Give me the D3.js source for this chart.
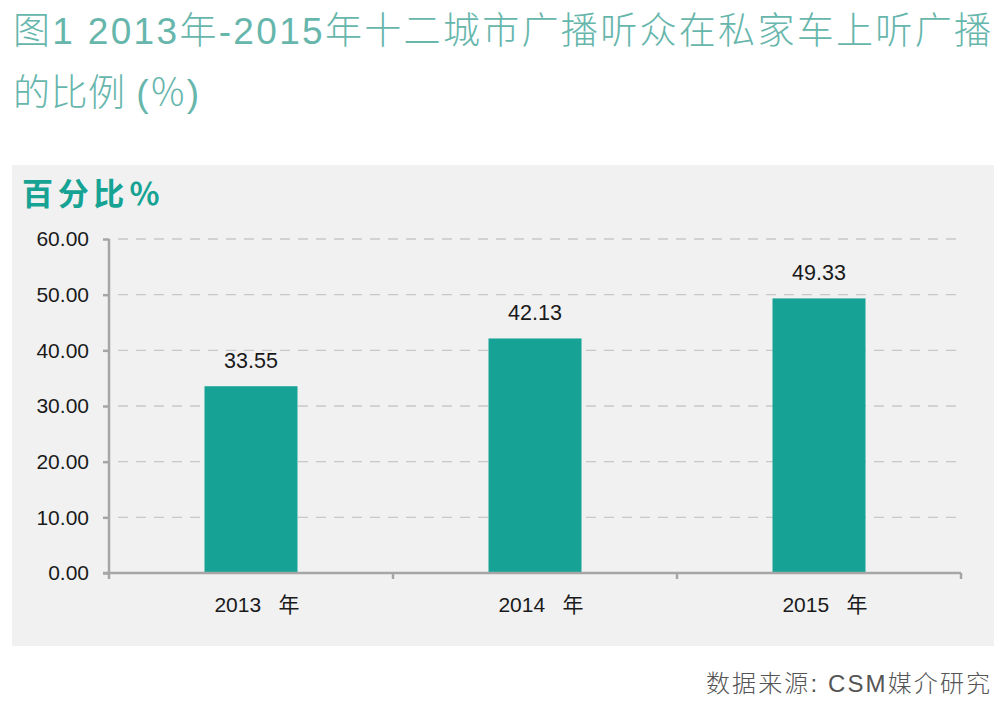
<!DOCTYPE html>
<html>
<head>
<meta charset="utf-8">
<script src="https://cdn.jsdelivr.net/npm/d3@7"></script>
<style>
  body { margin: 0; background: #fff; }
  svg { display: block; }
</style>
</head>
<body>
<script>
// chart data
const years = ["2013", "2014", "2015"];
const shares = [33.55, 42.13, 49.33];
const yTicks = [0, 10, 20, 30, 40, 50, 60];

const W = 1008, H = 721;
const svg = d3.select("body").append("svg")
    .attr("width", W)
    .attr("height", H);

// title, two lines
const title = svg.append("text")
    .attr("fill", "#66b6ac")
    .style("font-family", "'Liberation Sans', 'Noto Sans CJK SC', sans-serif")
    .style("font-weight", 300)
    .style("font-size", "37px");
title.append("tspan").attr("x", 13).attr("y", 44)
    .attr("textLength", 978).attr("lengthAdjust", "spacing")
    .text("图1 2013年-2015年十二城市广播听众在私家车上听广播");
title.append("tspan").attr("x", 13).attr("y", 106)
    .attr("textLength", 186).attr("lengthAdjust", "spacing")
    .text("的比例 (％)");

// gray panel
svg.append("rect")
    .attr("x", 12).attr("y", 165)
    .attr("width", 982).attr("height", 481)
    .attr("fill", "#f1f1f1");

svg.append("text")
    .attr("x", 22).attr("y", 205)
    .attr("fill", "#16a394")
    .attr("textLength", 138).attr("lengthAdjust", "spacing")
    .style("font-family", "'Noto Sans CJK SC', sans-serif")
    .style("font-weight", 700)
    .style("font-size", "31px")
    .text("百分比％");

// scales
const x = d3.scaleBand()
    .domain(years)
    .range([109, 961])
    .paddingInner(0)
    .paddingOuter(0);

const y = d3.scaleLinear()
    .domain([0, 60])
    .range([573, 239]);

const barW = 93;

// dashed gridlines
svg.append("g")
    .selectAll("line")
    .data(yTicks.filter(d => d > 0))
    .join("line")
    .attr("x1", 118).attr("x2", 961)
    .attr("y1", d => y(d)).attr("y2", d => y(d))
    .attr("stroke", "#c8c8c8")
    .attr("stroke-width", 1.3)
    .attr("stroke-dasharray", "10,8");

// bars
svg.append("g")
    .selectAll("rect")
    .data(years)
    .join("rect")
    .attr("x", (d) => x(d) + x.bandwidth() / 2 - barW / 2)
    .attr("width", barW)
    .attr("y", (d, i) => y(shares[i]))
    .attr("height", (d, i) => y(0) - y(shares[i]))
    .attr("fill", "#16a396");

// value labels
svg.append("g")
    .selectAll("text")
    .data(years)
    .join("text")
    .attr("x", d => x(d) + x.bandwidth() / 2)
    .attr("y", (d, i) => y(shares[i]) - 18)
    .attr("text-anchor", "middle")
    .attr("fill", "#1a1a1a")
    .style("font-family", "'Liberation Sans', Arial, sans-serif")
    .style("font-size", "21.5px")
    .text((d, i) => shares[i].toFixed(2));

// y axis
const yAxis = svg.append("g")
    .attr("transform", "translate(109,0)")
    .call(d3.axisLeft(y).tickValues(yTicks).tickFormat(d3.format(".2f")).tickSize(6).tickPadding(14));
yAxis.select(".domain").attr("stroke", "#a6a6a6").attr("stroke-width", 2.5)
    .attr("d", "M0," + y(60) + "V" + y(0));
yAxis.selectAll(".tick line").attr("stroke", "#a6a6a6").attr("stroke-width", 2.5);
yAxis.selectAll(".tick text")
    .attr("fill", "#1a1a1a")
    .style("font-family", "'Liberation Sans', Arial, sans-serif")
    .style("font-size", "21px");

// x axis: boundary ticks between categories
const bounds = [x.range()[0]].concat(years.map(d => x(d) + x.bandwidth()));
const xg = svg.append("g");
xg.append("line")
    .attr("x1", 103).attr("x2", 961)
    .attr("y1", y(0)).attr("y2", y(0))
    .attr("stroke", "#a6a6a6").attr("stroke-width", 2.5);
xg.selectAll("line.tk")
    .data(bounds)
    .join("line")
    .attr("class", "tk")
    .attr("x1", d => d).attr("x2", d => d)
    .attr("y1", y(0)).attr("y2", y(0) + 6)
    .attr("stroke", "#a6a6a6").attr("stroke-width", 2.5);
xg.selectAll("text")
    .data(years)
    .join("text")
    .attr("x", d => x(d) + x.bandwidth() / 2 + 6)
    .attr("y", 612)
    .attr("text-anchor", "middle")
    .attr("fill", "#1a1a1a")
    .style("font-family", "'Liberation Sans', 'Noto Sans CJK SC', sans-serif")
    .style("font-size", "21px")
    .style("white-space", "pre")
    .text(d => d + "   年");

// source note
svg.append("text")
    .attr("x", 706).attr("y", 692)
    .attr("textLength", 284).attr("lengthAdjust", "spacing")
    .attr("fill", "#555")
    .style("font-family", "'Liberation Sans', 'Noto Sans CJK SC', sans-serif")
    .style("font-weight", 300)
    .style("font-size", "24px")
    .text("数据来源: CSM媒介研究");
</script>
</body>
</html>
